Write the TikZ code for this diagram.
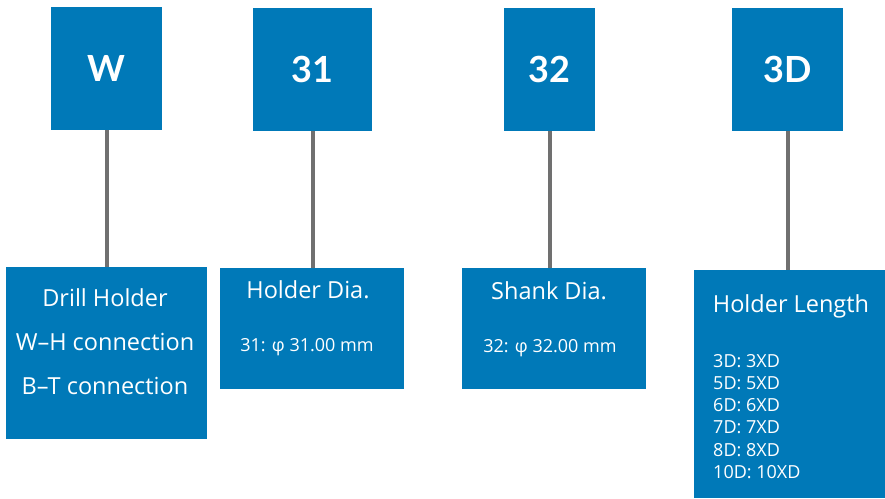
\documentclass[tikz,border=0pt]{standalone}
\usepackage{fontspec}
\setmainfont{Lato}
\newfontfamily\descfont{Open Sans}
\usetikzlibrary{positioning}
\definecolor{codeblue}{RGB}{0,121,184}
\definecolor{stemgray}{RGB}{112,112,112}
\tikzset{
  codebox/.style={rectangle, fill=codeblue, text=white, inner sep=0pt, font=\bfseries\fontsize{36}{40}\selectfont},
  descbox/.style={rectangle, fill=codeblue, inner sep=0pt},
  desctext/.style={text=white, inner sep=0pt, font=\descfont\fontsize{23.5}{44}\selectfont},
  smalltext/.style={text=white, inner sep=0pt, font=\descfont\fontsize{18}{22.2}\selectfont},
  connline/.style={draw=stemgray, line width=4pt},
}
\begin{document}
\begin{tikzpicture}[x=1pt, y=-1pt]
    \useasboundingbox (0,0) rectangle (885,498);

    % code boxes
    \node[codebox, minimum width=111pt, minimum height=123pt] (W) at (106.5,68.5) {W};
    \node[codebox, minimum width=119pt, minimum height=123pt] (D31) at (312.5,69.5) {31};
    \node[codebox, minimum width=91pt, minimum height=123pt] (D32) at (549.5,69.5) {32};
    \node[codebox, minimum width=111pt, minimum height=123pt] (L3D) at (787.5,69.5) {3D};

    % Drill Holder
    \node[descbox, minimum width=201pt, minimum height=172pt] (Wbox) at (106.5,353) {};
    \node[desctext, align=center, anchor=north] (Wtext) at (105,288) {Drill Holder\\W–H connection\\B–T connection};
    \draw[connline] (W.south) -- (W.south |- Wbox.north);

    % Holder Dia.
    \node[descbox, minimum width=184pt, minimum height=121pt] (D31box) at (312,328.5) {};
    \node[desctext, anchor=mid] (D31title) at (308,296) {Holder Dia.};
    \node[smalltext, anchor=mid] (D31text) at (307,348.5) {31: φ 31.00 mm};
    \draw[connline] (D31.south) -- (D31.south |- D31box.north);

    % Shank Dia.
    \node[descbox, minimum width=184pt, minimum height=121pt] (D32box) at (554,328.5) {};
    \node[desctext, anchor=mid] (D32title) at (549,297) {Shank Dia.};
    \node[smalltext, anchor=mid] (D32text) at (550,349.5) {32: φ 32.00 mm};
    \draw[connline] (D32.south) -- (D32.south |- D32box.north);

    % Holder Length
    \node[descbox, minimum width=191pt, minimum height=228pt] (L3Dbox) at (789.5,384) {};
    \node[desctext, anchor=mid] (L3Dtitle) at (791,310) {Holder Length};
    \node[smalltext, align=left, anchor=north west] (L3Dtext) at (713,354) {3D: 3XD\\5D: 5XD\\6D: 6XD\\7D: 7XD\\8D: 8XD\\10D: 10XD};
    \draw[connline] (L3D.south) -- (L3D.south |- L3Dbox.north);

\end{tikzpicture}
\end{document}
